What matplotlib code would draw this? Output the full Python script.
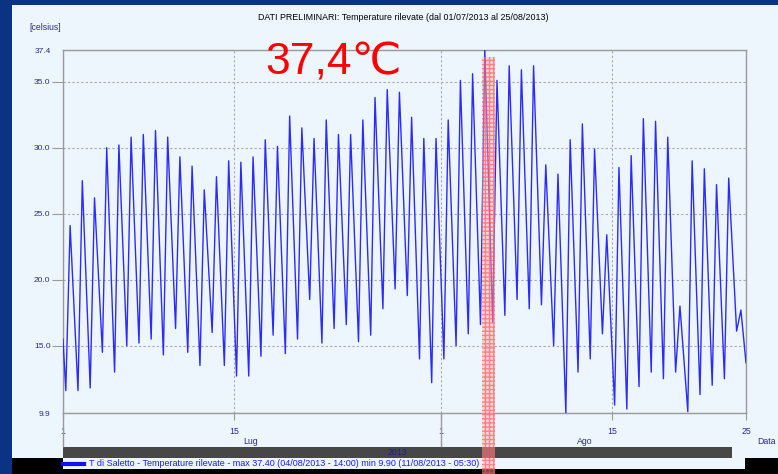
import matplotlib
matplotlib.use('Agg')
import matplotlib.pyplot as plt
from matplotlib.patches import Rectangle
from matplotlib.lines import Line2D

plt.rcParams['font.family'] = ['Liberation Sans', 'DejaVu Sans']

# ---------------- data ----------------
title = "DATI PRELIMINARI: Temperature rilevate (dal 01/07/2013 al 25/08/2013)"
legend_text = ("T di Saletto - Temperature rilevate - max 37.40 (04/08/2013 - 14:00) "
               "min 9.90 (11/08/2013 - 05:30)")
ylabel = "[celsius]"
big_label = "37,4\u2103"

# daily minimum (~05:30) and maximum (~14:00) temperatures, 1 Jul .. 25 Aug 2013
daily_min = [11.6, 11.6, 11.8, 14.5, 13.0, 15.0, 15.2, 15.5, 14.3, 16.3,
             14.5, 13.5, 16.0, 13.5, 12.7, 12.7, 14.2, 15.8, 14.4, 15.5,
             18.5, 15.2, 16.3, 16.6, 15.3, 15.8, 17.8, 19.3, 18.8, 14.0,
             12.2, 14.0, 15.0, 15.9, 16.6, 16.8, 17.3, 18.5, 17.8, 18.1,
             15.0, 9.9, 13.0, 14.0, 15.9, 10.5, 10.2, 11.9, 13.0, 12.5,
             13.0, 10.0, 11.3, 12.0, 12.5, 16.1]
daily_max = [24.1, 27.5, 26.2, 30.0, 30.2, 30.8, 31.0, 31.3, 30.8, 29.3,
             28.6, 26.8, 27.8, 29.0, 28.9, 29.3, 30.6, 30.1, 32.4, 31.5,
             30.7, 32.1, 31.0, 31.0, 32.1, 33.8, 34.4, 34.2, 32.3, 30.7,
             30.7, 32.1, 35.1, 35.6, 37.4, 35.1, 36.2, 35.9, 36.2, 28.7,
             28.0, 30.6, 31.8, 29.9, 23.4, 28.5, 29.4, 32.2, 32.0, 30.8,
             18.0, 29.0, 28.4, 27.2, 27.7, 17.7]
start_value = 15.5      # 01/07 00:00
end_value = 13.7        # 25/08 24:00
hour_min = 5.5
hour_max = 14.0

yticks = [9.9, 15.0, 20.0, 25.0, 30.0, 35.0, 37.4]
ytick_labels = ["9.9", "15.0", "20.0", "25.0", "30.0", "35.0", "37.4"]
xticks = [0, 14, 31, 45, 56]          # days since 01/07
xtick_labels = ["1", "15", "1", "15", "25"]
month_labels = ["Lug", "Ago"]
year_label = "2013"

# build the time series from the read extremes
t = [0.0]
v = [start_value]
for d, (lo, hi) in enumerate(zip(daily_min, daily_max)):
    t += [d + hour_min / 24, d + hour_max / 24]
    v += [lo, hi]
t.append(56.0)
v.append(end_value)

# ---------------- layout ----------------
W, H = 778, 474
fig = plt.figure(figsize=(W / 100, H / 100), dpi=100)
fig.patch.set_facecolor('#0a3384')
PANEL = '#eef6fd'
NAVY = '#2a2a8c'
GRAY = '#9a9a9a'


def fx(x):
    return x / W


def fy(y):
    return 1 - y / H


def rect(x0, y0, x1, y1, **kw):
    r = Rectangle((fx(x0), fy(y1)), fx(x1) - fx(x0), fy(y0) - fy(y1),
                  transform=fig.transFigure, **kw)
    fig.add_artist(r)
    return r


rect(12, 5, 778, 458, fc=PANEL, ec='none', zorder=-10)
rect(12, 458, 778, 474, fc='black', ec='none', zorder=-9)
rect(63, 458, 745, 469, fc=PANEL, ec='none', zorder=-8)
rect(63, 446.7, 732, 458, fc='#474747', ec='none', zorder=-8)

ax = fig.add_axes([fx(63), fy(413), fx(746) - fx(63), fy(50) - fy(413)])
ax.set_facecolor(PANEL)
ax.set_xlim(0, 56)
ax.set_ylim(9.9, 37.4)

ax.plot(t, v, color='#2b2bff', lw=1.0, zorder=3)

for s in ax.spines.values():
    s.set_color(GRAY)
    s.set_linewidth(1.0)

ax.set_yticks(yticks)
ax.set_yticklabels(ytick_labels)
ax.tick_params(axis='y', length=8, color=GRAY, pad=1, labelsize=6, labelcolor=NAVY)
yt = ax.yaxis.get_major_ticks()
yt[0].tick1line.set_visible(False)
yt[-1].tick1line.set_visible(False)

ax.set_xticks(xticks)
ax.set_xticklabels(xtick_labels)
ax.tick_params(axis='x', length=5, color=GRAY, pad=5, labelsize=6.3, labelcolor=NAVY)
for d in (xticks[0], xticks[2]):
    ax.plot([d, d], [0, -33 / 363], transform=ax.get_xaxis_transform(),
            clip_on=False, color=GRAY, lw=1.0)

ax.grid(True, color='#a8a8a8', linestyle=(0, (2, 2)), lw=0.8)

# red highlight band around the maximum
rect(482, 57, 495, 474, fc=(1, 0.7, 0.7, 0.45), ec=(1, 0.3, 0.3, 0.6),
     hatch='++++', lw=0, zorder=5)

# texts
fig.text(fx(403), fy(17), title, ha='center', va='center', fontsize=6.4, color='black')
fig.text(fx(29), fy(28), ylabel, ha='left', va='center', fontsize=6.2, color=NAVY)
fig.text(fx(265), fy(75), big_label, ha='left', va='baseline', fontsize=32,
         color='#ff0000', family=['Liberation Sans', 'DejaVu Sans'])
fig.text(fx(251), fy(442), month_labels[0], ha='center', va='center', fontsize=6.3, color=NAVY)
fig.text(fx(585), fy(442), month_labels[1], ha='center', va='center', fontsize=6.3, color=NAVY)
fig.text(fx(766), fy(442), "Data", ha='center', va='center', fontsize=6.3, color=NAVY)
fig.text(fx(397), fy(452.5), year_label, ha='center', va='center', fontsize=6.3, color='#1c1c9c')

fig.add_artist(Line2D([fx(63), fx(84)], [fy(463.5), fy(463.5)], lw=3,
                      color='#1010ff', transform=fig.transFigure))
fig.text(fx(89), fy(463.5), legend_text, ha='left', va='center', fontsize=6.5, color='#1a1aff')

fig.savefig('out.png', dpi=100, facecolor=fig.get_facecolor())
